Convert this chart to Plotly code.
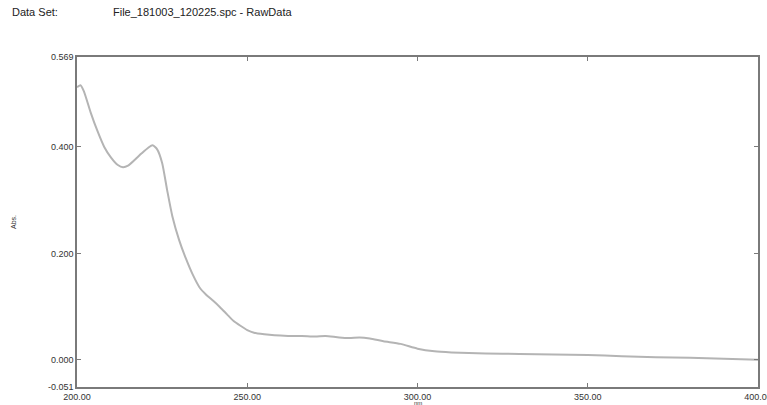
import plotly.graph_objects as go

wavelength = [200, 201, 202, 204, 206, 208, 210, 212, 213.5, 215, 217, 219, 221, 222.2,
              223.5, 225, 226.5, 228, 230, 232, 234, 236, 238, 240, 242, 244, 246, 248,
              250, 252, 255, 258, 262, 266, 270, 273, 277, 280, 283, 286, 290, 295, 300,
              305, 310, 320, 330, 340, 350, 360, 370, 380, 390, 400]
absorbance = [0.512, 0.516, 0.505, 0.465, 0.430, 0.400, 0.380, 0.366, 0.362, 0.365, 0.376,
              0.388, 0.399, 0.403, 0.396, 0.370, 0.318, 0.270, 0.225, 0.190, 0.160, 0.136,
              0.122, 0.111, 0.099, 0.086, 0.073, 0.064, 0.056, 0.051, 0.048, 0.046, 0.045,
              0.045, 0.044, 0.045, 0.042, 0.041, 0.042, 0.040, 0.035, 0.030, 0.021, 0.016,
              0.014, 0.012, 0.011, 0.010, 0.009, 0.007, 0.005, 0.004, 0.002, 0.000]

x_ticks = [200, 250, 300, 350, 400]
x_tick_labels = ["200.00", "250.00", "300.00", "350.00", "400.00"]
y_ticks = [-0.051, 0.0, 0.2, 0.4, 0.569]
y_tick_labels = ["-0.051", "0.000", "0.200", "0.400", "0.569"]

fig = go.Figure()
fig.add_trace(go.Scatter(x=wavelength, y=absorbance, mode="lines",
                         line=dict(color="#b4b4b4", width=2, shape="spline", smoothing=0.6),
                         showlegend=False, hoverinfo="skip"))

axis_common = dict(showgrid=False, zeroline=False, showline=True, linecolor="#7a7a7a",
                   linewidth=1.5, mirror="ticks", ticks="inside", ticklen=4,
                   tickcolor="#7a7a7a", tickwidth=1, automargin=False,
                   ticklabeloverflow="allow",
                   tickfont=dict(family="Liberation Sans, Arial", size=9, color="#333"))

fig.update_layout(
    width=767, height=405,
    margin=dict(l=77, r=9, t=57, b=18),
    paper_bgcolor="white", plot_bgcolor="white",
    xaxis=dict(range=[200, 400], tickvals=x_ticks, ticktext=x_tick_labels, **axis_common),
    yaxis=dict(range=[-0.051, 0.569], tickvals=y_ticks, ticktext=y_tick_labels, **axis_common),
    annotations=[
        dict(text="Data Set:", xref="paper", yref="paper", x=-0.098, y=1.136, xanchor="left",
             yanchor="middle", showarrow=False,
             font=dict(family="Liberation Sans, Arial", size=11, color="#222")),
        dict(text="File_181003_120225.spc - RawData", xref="paper", yref="paper", x=0.050,
             y=1.136, xanchor="left", yanchor="middle", showarrow=False,
             font=dict(family="Liberation Sans, Arial", size=11, color="#222")),
        dict(text="Abs.", xref="paper", yref="paper", x=-0.094, y=0.5, textangle=-90,
             xanchor="center", yanchor="middle", showarrow=False,
             font=dict(family="Liberation Sans, Arial", size=7, color="#333")),
        dict(text="nm", xref="x", yref="paper", x=300, y=-0.048, xanchor="center",
             yanchor="middle", showarrow=False,
             font=dict(family="Liberation Sans, Arial", size=6, color="#333")),
    ],
)

fig.write_html("out.html", config={"displayModeBar": False},
               post_script="document.body.style.margin='0';document.body.style.overflow='hidden';")
